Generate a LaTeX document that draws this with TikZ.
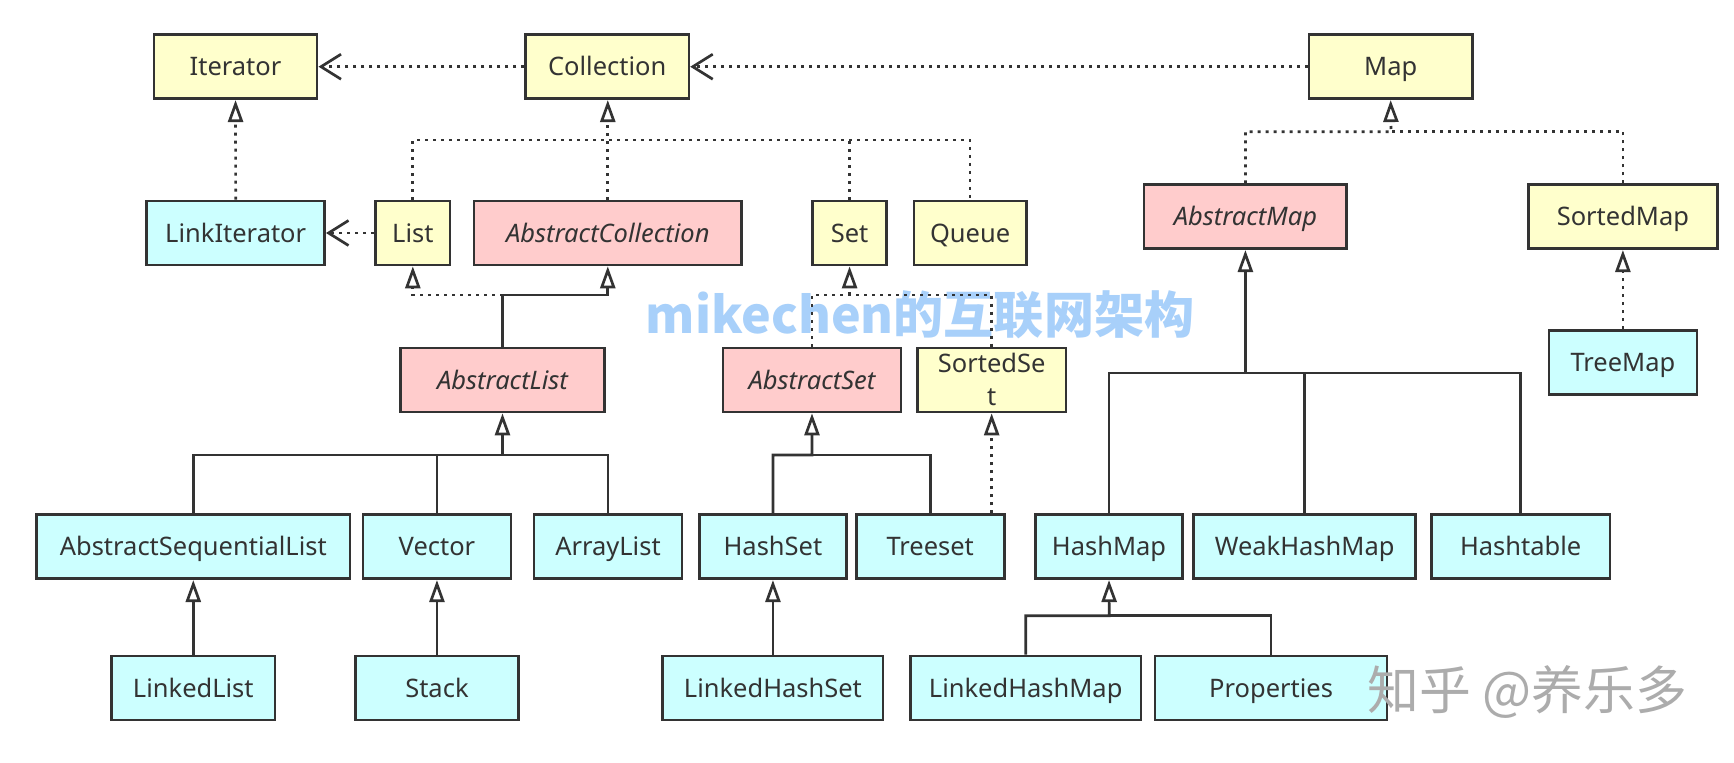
\documentclass[tikz,border=0pt]{standalone}
\usepackage{fontspec}
\setmainfont{Noto Sans}
\newfontfamily\cjk{Noto Sans CJK SC}
\usetikzlibrary{positioning,arrows.meta}
\definecolor{ifc}{HTML}{FFFFCC}
\definecolor{abc}{HTML}{FFCCCC}
\definecolor{imc}{HTML}{CCFFFF}
\definecolor{linec}{HTML}{333333}
\definecolor{wmblue}{RGB}{168,208,250}
\definecolor{wmgrey}{RGB}{172,172,172}

\begin{document}
\begin{tikzpicture}[x=0.02cm,y=-0.02cm,
  cls/.style={draw=linec,line width=0.054cm,minimum height=1.28cm,inner sep=0pt,text=linec,text height=12pt,text depth=1.6pt,font=\fontsize{14.5pt}{19pt}\selectfont},
  iface/.style={cls,fill=ifc},
  abst/.style={cls,fill=abc,font=\fontsize{14.5pt}{19pt}\selectfont\itshape},
  impl/.style={cls,fill=imc},
  wire/.style={draw=linec,line width=0.054cm},
  dots/.style={wire,dash pattern=on 0.06cm off 0.1cm},
  extends/.style={wire,-{Triangle[open,fill=white,length=0.44cm,width=0.3cm]}},
  realizes/.style={dots,-{Triangle[open,fill=white,length=0.44cm,width=0.3cm]}},
  uses/.style={dots,-{Straight Barb[length=0.4cm,width=0.5cm]}}]

\path[fill=white] (0,0) rectangle (1734,762);
\node[text=wmblue,font=\cjk\bfseries\fontsize{28.5pt}{30pt}\selectfont] (wmark) at (920,315) {mikechen的互联网架构};

\node[iface,minimum width=3.266cm] (iter) at (235.5,66.7) {Iterator};
\node[iface,minimum width=3.266cm,right=4.116cm of iter] (coll) {Collection};
\node[iface,minimum width=3.266cm,right=12.352cm of coll] (map) {Map};

\node[impl,minimum width=3.558cm] (lit) at (235.7,233) {LinkIterator};
\node[iface,minimum width=1.492cm,right=0.964cm of lit] (list) {List};
\node[abst,minimum width=5.356cm,right=0.422cm of list] (acoll) {AbstractCollection};
\node[iface,minimum width=1.486cm,right=1.362cm of acoll] (set) {Set};
\node[iface,minimum width=2.246cm,right=0.49cm of set] (queue) {Queue};

\node[abst,minimum width=4.056cm] (amap) at (1245.4,216.7) {AbstractMap};
\node[iface,minimum width=3.786cm,right=3.576cm of amap] (smap) {SortedMap};
\node[impl,minimum width=2.962cm,below=1.58cm of smap] (tmap) {TreeMap};

\node[abst,minimum width=4.074cm] (alist) at (502.5,380) {AbstractList};
\node[abst,minimum width=3.56cm,right=2.32cm of alist] (aset) {AbstractSet};
\node[iface,minimum width=2.972cm,align=center,text height=31pt,right=0.274cm of aset] (sset) {SortedSe\\t};

\node[impl,minimum width=6.268cm] (asl) at (193.3,546.7) {AbstractSequentialList};
\node[impl,minimum width=2.96cm,right=0.206cm of asl] (vec) {Vector};
\node[impl,minimum width=2.958cm,right=0.408cm of vec] (alst) {ArrayList};
\node[impl,minimum width=2.946cm,right=0.294cm of alst] (hset) {HashSet};
\node[impl,minimum width=2.958cm,right=0.14cm of hset] (tset) {Treeset};
\node[impl,minimum width=2.952cm,right=0.568cm of tset] (hmap) {HashMap};
\node[impl,minimum width=4.446cm,right=0.16cm of hmap] (whmap) {WeakHashMap};
\node[impl,minimum width=3.58cm,right=0.254cm of whmap] (htab) {Hashtable};

\node[impl,minimum width=3.266cm,below=1.49cm of asl] (llist) {LinkedList};
\node[impl,minimum width=3.26cm,below=1.49cm of vec] (stack) {Stack};
\node[impl,minimum width=4.406cm,below=1.49cm of hset] (lhset) {LinkedHashSet};
\node[impl,minimum width=4.618cm,right=0.49cm of lhset] (lhmap) {LinkedHashMap};
\node[impl,minimum width=4.64cm,right=0.226cm of lhmap] (props) {Properties};

\path (coll) edge[uses] (iter);
\path (map) edge[uses] (coll);
\path (lit) edge[realizes] (iter);
\path (list) edge[uses] (lit);
\path (tmap) edge[realizes] (smap);
\path (llist) edge[extends] (asl);
\path (stack) edge[extends] (vec);
\path (lhset) edge[extends] (hset);

\coordinate (cbus) at (607.5,140);
\draw[dots] (list.north) |- (cbus) -| (queue.north);
\draw[dots] (set.north) -- (set.north |- cbus);
\draw[realizes] (acoll.north) -- (acoll.north |- coll.south);

\coordinate (lbus) at (502.5,295);
\draw[extends] (alist.north) -- (lbus) -| (acoll.south);
\draw[realizes] (lbus) -| (list.south);

\coordinate (sbus) at (set.south |- lbus);
\draw[dots] (aset.north) |- (sbus) -| (sset.north);
\draw[realizes] (sbus) -- (set.south);

\coordinate (asbus) at (812,455);
\draw[extends] (hset.north) |- (asbus) -- (aset.south);
\draw[wire] (tset.north) |- (asbus);
\draw[realizes] (sset.south |- tset.north) -- (sset.south);

\coordinate (albus) at (502.5,455);
\draw[extends] (asl.north) |- (albus) -- (alist.south);
\draw[wire] (alst.north) |- (albus);
\draw[wire] (vec.north) -- (vec.north |- albus);

\coordinate (ambus) at (1245.4,373);
\draw[extends] (hmap.north) |- (ambus) -- (amap.south);
\draw[wire] (htab.north) |- (ambus);
\draw[wire] (whmap.north) -- (whmap.north |- ambus);

\coordinate (hmbus) at (1109.2,615.7);
\draw[extends] (lhmap.north) |- (hmbus) -- (hmap.south);
\draw[wire] (props.north) |- (hmbus);

\coordinate (mbus) at (1391,131.7);
\draw[realizes] (amap.north) |- (mbus) -- (map.south);
\draw[dots] (smap.north) |- (mbus);

\node[text=wmgrey,font=\cjk\fontsize{29.5pt}{31pt}\selectfont] (zhihu) at (1527.5,692) {知乎 @养乐多};

\end{tikzpicture}
\end{document}
